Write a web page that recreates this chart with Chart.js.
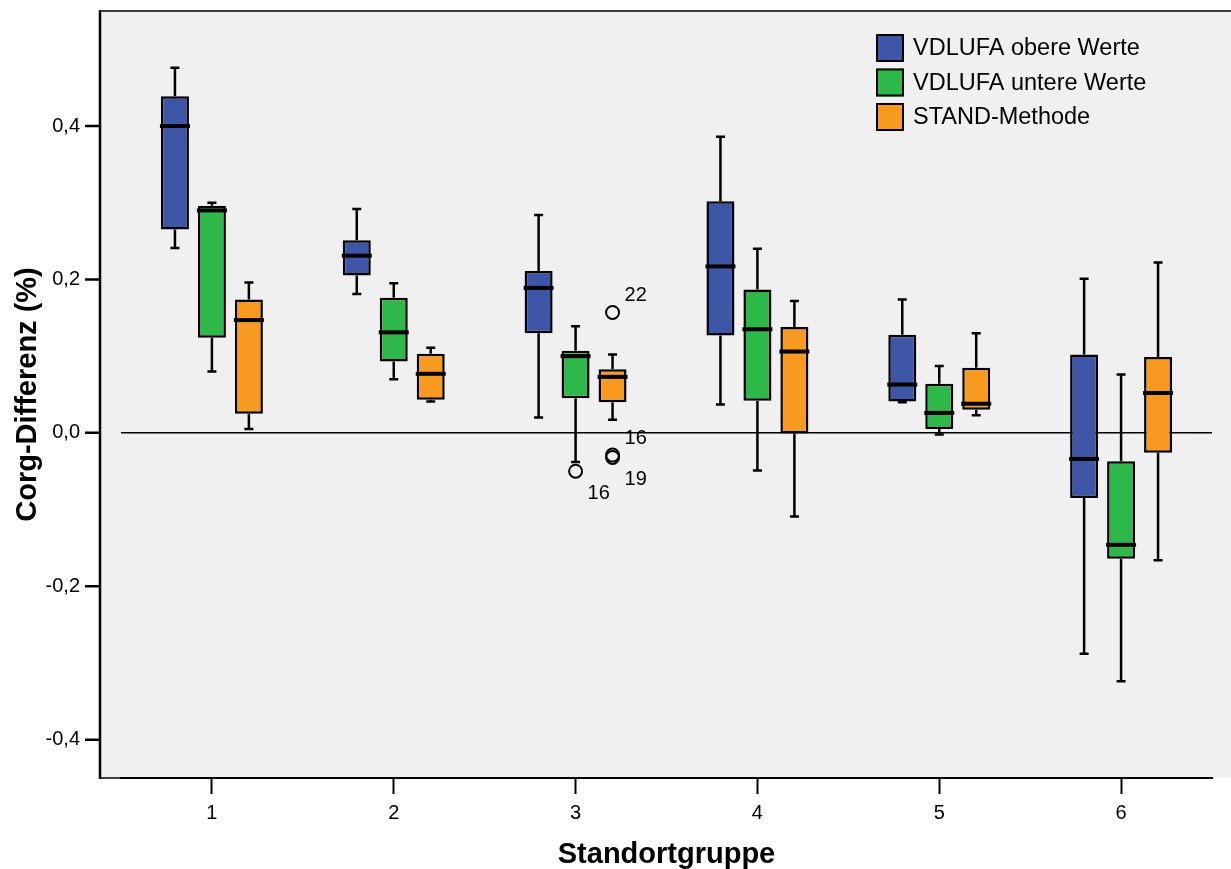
<!DOCTYPE html>
<html>
<head>
<meta charset="utf-8">
<title>Corg-Differenz nach Standortgruppe</title>
<script src="https://cdn.jsdelivr.net/npm/chart.js@4.4.1/dist/chart.umd.min.js"></script>
<style>
  html, body { margin: 0; padding: 0; background: #fff; }
  #wrap { width: 1231px; height: 869px; }
</style>
</head>
<body>
<div id="wrap"><canvas id="boxChart"></canvas></div>
<script>
// Standortgruppen on the x axis
const groups = ["1", "2", "3", "4", "5", "6"];
const seriesNames = ["VDLUFA obere Werte", "VDLUFA untere Werte", "STAND-Methode"];

// per group: [whisker low, Q1, median, Q3, whisker high]
const obereWerte = [
    [0.241, 0.265, 0.400, 0.439, 0.476],
    [0.181, 0.205, 0.231, 0.251, 0.292],
    [0.020, 0.130, 0.189, 0.211, 0.284],
    [0.037, 0.127, 0.217, 0.302, 0.386],
    [0.040, 0.041, 0.063, 0.128, 0.174],
    [-0.288, -0.085, -0.034, 0.102, 0.201]
];
const untereWerte = [
    [0.080, 0.124, 0.290, 0.296, 0.300],
    [0.070, 0.093, 0.131, 0.176, 0.195],
    [-0.038, 0.045, 0.100, 0.107, 0.139],
    [-0.049, 0.042, 0.135, 0.187, 0.240],
    [-0.002, 0.005, 0.026, 0.064, 0.087],
    [-0.324, -0.164, -0.146, -0.037, 0.076]
];
const standMethode = [
    [0.005, 0.025, 0.147, 0.174, 0.196],
    [0.041, 0.043, 0.077, 0.103, 0.111],
    [0.017, 0.040, 0.073, 0.083, 0.102],
    [-0.109, -0.001, 0.106, 0.138, 0.172],
    [0.023, 0.030, 0.038, 0.085, 0.130],
    [-0.166, -0.026, 0.052, 0.099, 0.222]
];

// outliers: group index, series index, value, case number
const outliers = [
    { group: 2, series: 1, value: -0.050, label: "16" },
    { group: 2, series: 2, value: 0.157, label: "22" },
    { group: 2, series: 2, value: -0.029, label: "16" },
    { group: 2, series: 2, value: -0.032, label: "19" }
];

const yTicks = [-0.4, -0.2, 0.0, 0.2, 0.4];

// styling
const seriesColors = ["#3d56a8", "#2fb84a", "#f89a1f"];
const outlierLabelSide = ["below", "above", "above", "below"];
const FONT = "'Liberation Sans', Arial, sans-serif";
const FRAME_LEFT = 100;

const allSeries = [obereWerte, untereWerte, standMethode];

const boxPlugin = {
    id: "boxWhiskers",
    beforeDraw(chart) {
        const ctx = chart.ctx;
        const area = chart.chartArea;
        const yScale = chart.scales.y;
        ctx.save();
        ctx.fillStyle = "#ffffff";
        ctx.fillRect(0, 0, chart.width, chart.height);
        // grey plot frame
        ctx.fillStyle = "#f0f0f0";
        ctx.fillRect(FRAME_LEFT, area.top, chart.width - FRAME_LEFT, area.bottom - area.top);
        ctx.strokeStyle = "#000";
        ctx.lineWidth = 1.5;
        ctx.beginPath();
        ctx.moveTo(FRAME_LEFT, area.top);
        ctx.lineTo(chart.width, area.top);
        ctx.moveTo(FRAME_LEFT, area.bottom);
        ctx.lineTo(area.left, area.bottom);
        ctx.stroke();
        // y axis line and tick marks
        ctx.lineWidth = 2.5;
        ctx.beginPath();
        ctx.moveTo(FRAME_LEFT, area.top - 0.75);
        ctx.lineTo(FRAME_LEFT, area.bottom + 1);
        yScale.ticks.forEach(t => {
            const py = yScale.getPixelForValue(t.value);
            ctx.moveTo(FRAME_LEFT - 15, py);
            ctx.lineTo(FRAME_LEFT, py);
        });
        ctx.stroke();
        ctx.restore();
    },
    afterDatasetsDraw(chart) {
        const ctx = chart.ctx;
        const yScale = chart.scales.y;
        ctx.save();
        ctx.strokeStyle = "#000";
        allSeries.forEach((series, d) => {
            const meta = chart.getDatasetMeta(d);
            series.forEach((v, i) => {
                const bar = meta.data[i];
                const x = bar.x;
                const half = bar.width / 2;
                const [lo, q1, med, q3, hi] = v.map(val => yScale.getPixelForValue(val));
                // whiskers
                ctx.lineWidth = 2.5;
                ctx.beginPath();
                ctx.moveTo(x, q3);
                ctx.lineTo(x, hi);
                ctx.moveTo(x, q1);
                ctx.lineTo(x, lo);
                ctx.moveTo(x - 4.5, hi);
                ctx.lineTo(x + 4.5, hi);
                ctx.moveTo(x - 4.5, lo);
                ctx.lineTo(x + 4.5, lo);
                ctx.stroke();
                // median
                ctx.lineWidth = 4;
                ctx.beginPath();
                ctx.moveTo(x - half - 1, med);
                ctx.lineTo(x + half + 1, med);
                ctx.stroke();
            });
        });
        // outliers
        ctx.font = "20px " + FONT;
        ctx.fillStyle = "#000";
        ctx.textAlign = "left";
        ctx.textBaseline = "middle";
        outliers.forEach((o, k) => {
            const bar = chart.getDatasetMeta(o.series).data[o.group];
            const py = yScale.getPixelForValue(o.value);
            ctx.lineWidth = 2;
            ctx.beginPath();
            ctx.arc(bar.x, py, 6.5, 0, Math.PI * 2);
            ctx.stroke();
            const dy = outlierLabelSide[k] === "above" ? -17 : 22;
            ctx.fillText(o.label, bar.x + 12, py + dy);
        });
        ctx.restore();
    },
    afterDraw(chart) {
        const ctx = chart.ctx;
        ctx.save();
        ctx.font = "23.5px " + FONT;
        ctx.textAlign = "left";
        ctx.textBaseline = "middle";
        seriesNames.forEach((name, i) => {
            const top = 34 + i * 34.5;
            ctx.fillStyle = seriesColors[i];
            ctx.fillRect(876, top, 28, 28);
            ctx.strokeStyle = "#000";
            ctx.lineWidth = 2;
            ctx.strokeRect(877, top + 1, 26, 26);
            ctx.fillStyle = "#000";
            ctx.fillText(name, 913, top + 15);
        });
        ctx.restore();
    }
};

document.addEventListener("DOMContentLoaded", () => {
    const ctx = document.getElementById("boxChart").getContext("2d");

    const datasets = allSeries.map((series, d) => ({
        label: seriesNames[d],
        data: series.map(v => [v[1], v[3]]),
        backgroundColor: seriesColors[d],
        borderColor: "#000",
        borderWidth: 2.5,
        borderSkipped: false,
        categoryPercentage: 0.61,
        barPercentage: 0.757
    }));

    new Chart(ctx, {
        type: "bar",
        data: { labels: groups, datasets: datasets },
        options: {
            responsive: true,
            maintainAspectRatio: false,
            animation: false,
            layout: { padding: { top: 11, right: 19, left: 0, bottom: 0 } },
            plugins: {
                legend: { display: false },
                tooltip: { enabled: false }
            },
            scales: {
                x: {
                    offset: true,
                    grid: {
                        display: true,
                        drawOnChartArea: false,
                        drawTicks: true,
                        tickLength: 16,
                        tickWidth: 2,
                        tickColor: "#000",
                        offset: false
                    },
                    border: { display: true, color: "#000", width: 2 },
                    ticks: { color: "#000", font: { family: FONT, size: 20 }, padding: 7 },
                    title: {
                        display: true,
                        text: "Standortgruppe",
                        color: "#000",
                        font: { family: FONT, size: 29, weight: "bold", lineHeight: 1 },
                        padding: { top: 0, bottom: 0 }
                    },
                    afterFit(scale) { scale.height = 91; }
                },
                y: {
                    min: -0.45,
                    max: 0.55,
                    z: 1,
                    afterBuildTicks(scale) { scale.ticks = yTicks.map(v => ({ value: v })); },
                    grid: {
                        drawTicks: true,
                        tickLength: 41,
                        tickColor: "rgba(0,0,0,0)",
                        lineWidth: 1.5,
                        color: c => (c.tick && c.tick.value === 0 ? "#000" : "rgba(0,0,0,0)")
                    },
                    border: { display: false },
                    ticks: {
                        color: "#000",
                        font: { family: FONT, size: 20, lineHeight: 1 },
                        padding: 0,
                        callback: v => v.toFixed(1).replace(".", ",")
                    },
                    title: {
                        display: true,
                        text: "Corg-Differenz (%)",
                        color: "#000",
                        font: { family: FONT, size: 29, weight: "bold", lineHeight: 1 },
                        padding: { top: 13.5, bottom: 0 }
                    },
                    afterFit(scale) { scale.width = 121; }
                }
            }
        },
        plugins: [boxPlugin]
    });
});
</script>
</body>
</html>
